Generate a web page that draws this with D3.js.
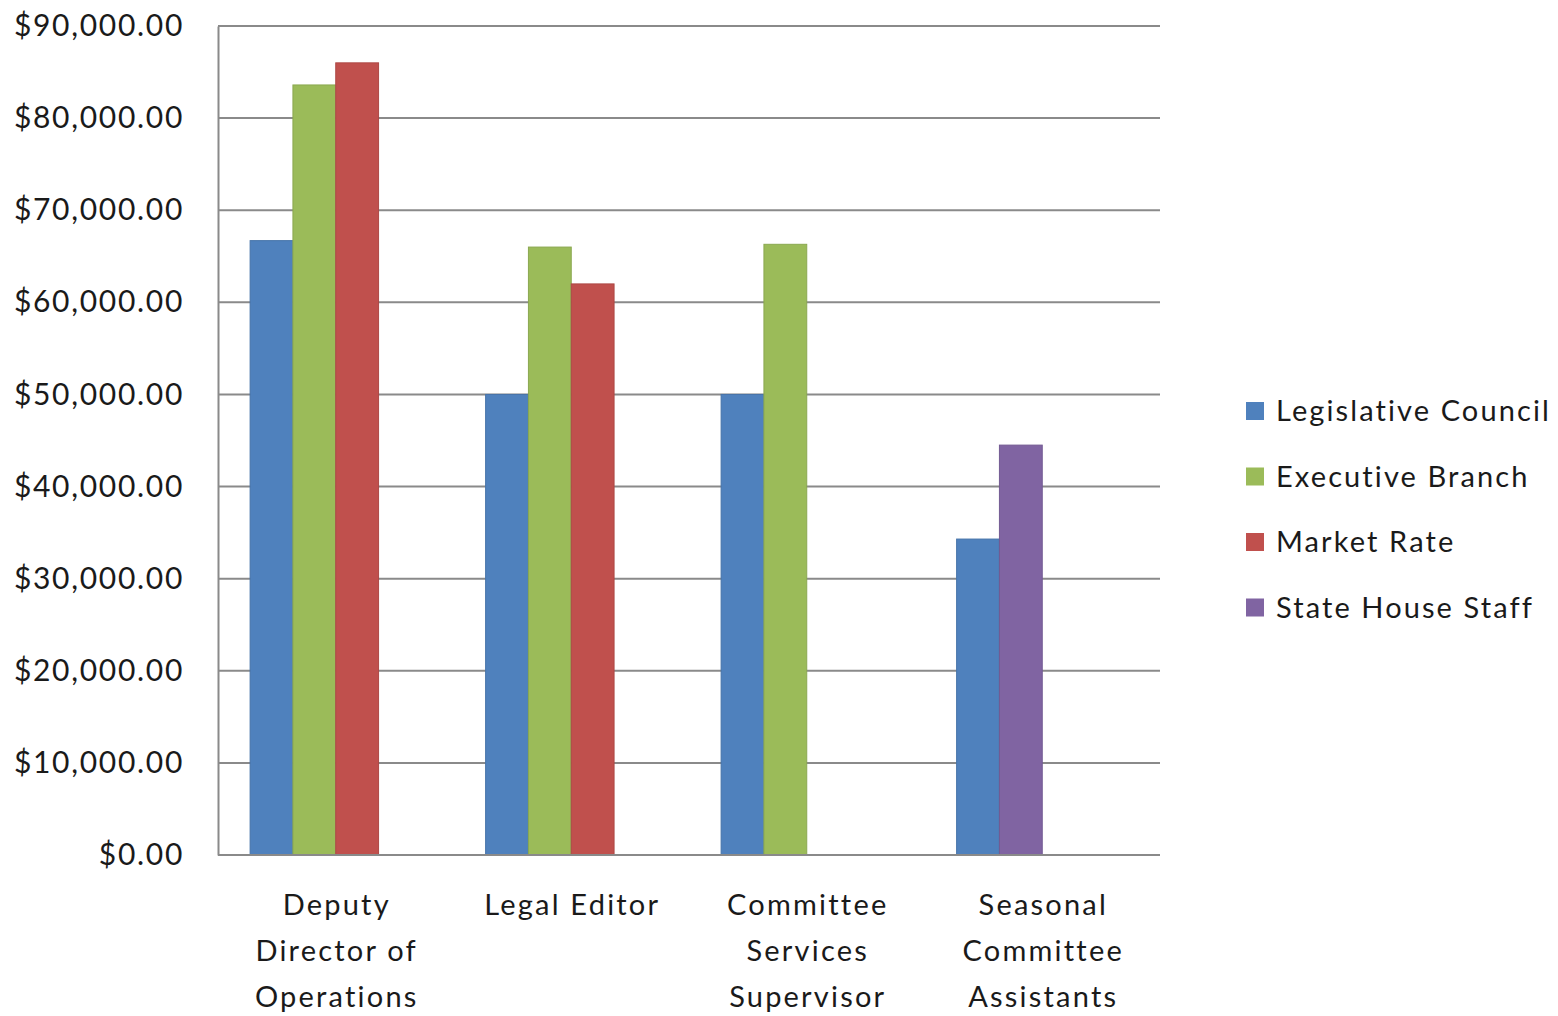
<!DOCTYPE html>
<html>
<head>
<meta charset="utf-8">
<script src="https://cdn.jsdelivr.net/npm/d3@7"></script>
<style>
  body { margin: 0; background: #fff; }
  text { font-family: Lato, "Open Sans", sans-serif; fill: #1a1a1a; }
</style>
</head>
<body>
<svg id="chart" width="1558" height="1016"></svg>
<script>
// Chart values
const categories = ["Deputy Director of Operations", "Legal Editor", "Committee Services Supervisor", "Seasonal Committee Assistants"];
const categoryLines = [["Deputy", "Director of", "Operations"], ["Legal Editor"], ["Committee", "Services", "Supervisor"], ["Seasonal", "Committee", "Assistants"]];
const seriesNames = ["Legislative Council", "Executive Branch", "Market Rate", "State House Staff"];
const seriesColors = ["#4F81BD", "#9BBB59", "#C0504D", "#8064A2"];
const legislativeCouncil = [66700, 50000, 50000, 34300];
const executiveBranch = [83600, 66000, 66300, null];
const marketRate = [86000, 62000, null, null];
const stateHouseStaff = [null, null, null, 44500];
const yTicks = [0, 10000, 20000, 30000, 40000, 50000, 60000, 70000, 80000, 90000];

// Layout
let plot = { left: 218, right: 1160, top: 26, bottom: 855 };

let svg = d3.select("#chart");

let x = d3.scaleBand()
    .domain(categories)
    .range([plot.left, plot.right]);

// four slots per category, gap of 150% of a bar
let slot = d3.scaleBand()
    .domain([0, 1, 2, 3])
    .range([0, x.bandwidth()])
    .paddingInner(0)
    .paddingOuter(0.75);

let y = d3.scaleLinear()
    .domain([0, 90000])
    .range([plot.bottom, plot.top]);

let fmt = d3.format("$,.2f");

// gridlines
svg.append("g")
    .selectAll("line")
    .data(yTicks)
    .enter()
    .append("line")
    .attr("x1", plot.left)
    .attr("x2", plot.right)
    .attr("y1", d => y(d))
    .attr("y2", d => y(d))
    .attr("stroke", "#8a8a8a")
    .attr("stroke-width", 2);

// y axis labels
let yAxis = svg.append("g")
    .attr("transform", "translate(" + plot.left + ",0)")
    .call(d3.axisLeft(y).tickValues(yTicks).tickFormat(fmt).tickSize(0).tickPadding(34));
yAxis.select(".domain").attr("stroke", "#8a8a8a").attr("stroke-width", 2);
yAxis.selectAll("text")
    .style("font-family", "Lato, 'Open Sans', sans-serif")
    .style("font-size", "30px")
    .style("letter-spacing", "1.7px")
    .attr("fill", "#1a1a1a");

// bars: each category lays out its existing series side by side
let series = [legislativeCouncil, executiveBranch, marketRate, stateHouseStaff];
let bars = [];
categories.forEach(function(cat, ci) {
    let k = 0;
    series.forEach(function(vals, si) {
        if (vals[ci] != null) {
            bars.push({ cat: cat, slot: k, value: vals[ci], color: seriesColors[si] });
            k++;
        }
    });
});

svg.append("g")
    .selectAll("rect")
    .data(bars)
    .enter()
    .append("rect")
    .attr("x", d => x(d.cat) + slot(d.slot))
    .attr("width", slot.bandwidth())
    .attr("y", d => y(d.value))
    .attr("height", d => y(0) - y(d.value))
    .attr("fill", d => d.color)
    .attr("stroke", d => d3.color(d.color).darker(0.3))
    .attr("stroke-width", 1);

// x axis baseline
svg.append("line")
    .attr("x1", plot.left)
    .attr("x2", plot.right)
    .attr("y1", y(0))
    .attr("y2", y(0))
    .attr("stroke", "#8a8a8a")
    .attr("stroke-width", 2);

// category labels
categories.forEach(function(cat, ci) {
    let t = svg.append("text")
        .attr("text-anchor", "middle")
        .style("font-size", "29px")
        .style("letter-spacing", "2.2px");
    categoryLines[ci].forEach(function(line, li) {
        t.append("tspan")
            .attr("x", x(cat) + x.bandwidth() / 2 + 1)
            .attr("y", 915 + li * 46)
            .text(line);
    });
});

// legend
let legend = svg.append("g")
    .attr("transform", "translate(1246,402)");

seriesNames.forEach(function(name, i) {
    let row = legend.append("g")
        .attr("transform", "translate(0," + (i * 65.5) + ")");
    row.append("rect")
        .attr("width", 18)
        .attr("height", 18)
        .attr("fill", seriesColors[i]);
    row.append("text")
        .attr("x", 30)
        .attr("y", 9)
        .attr("dy", "0.35em")
        .style("font-size", "29px")
        .style("letter-spacing", "2.1px")
        .text(name);
});
</script>
</body>
</html>
